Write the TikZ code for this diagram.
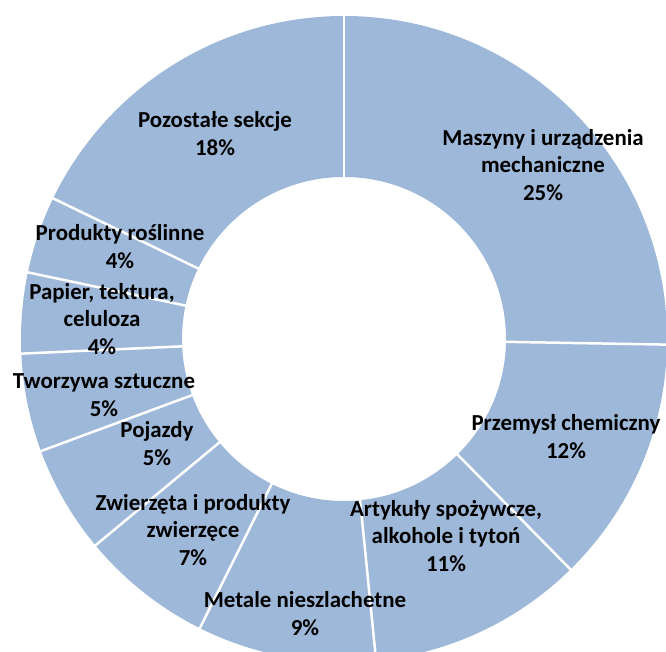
\documentclass[tikz,border=0pt]{standalone}
\usepackage{fontspec}
\setmainfont{Carlito}
\usetikzlibrary{calc}
\definecolor{slicefill}{RGB}{158,184,217}
\tikzset{
	lbl/.style={align=center, font=\fontsize{23}{28}\selectfont\bfseries, text=black, inner sep=0pt},
	sepline/.style={white, line width=2.5bp}
}
\begin{document}
\begin{tikzpicture}[x=1bp,y=1bp]
		\useasboundingbox (0,0) rectangle (666,652);
		\clip (0,0) rectangle (666,652);
		\coordinate (c) at (344,313);
		
		% ring
		\fill[slicefill, even odd rule] (c) circle (323) (c) circle (162);
		
		% slice borders
		\foreach \a in {90,-1,-45.5,-84.3,-116.5,-140.3,-159.7,-177.4,-191.9,-205.8}
			\draw[sepline] ($(c)+(\a:161)$) -- ($(c)+(\a:324)$);
		
		\node[lbl] (pozostale) at (215,518) {Pozostałe sekcje\\18\%};
		\node[lbl] (maszyny) at (543,487) {Maszyny i urządzenia\\mechaniczne\\25\%};
		\node[lbl] (chemia) at (566,215) {Przemysł chemiczny\\12\%};
		\node[lbl] (artykuly) at (446,116) {Artykuły spożywcze,\\alkohole i tytoń\\11\%};
		\node[lbl] (metale) at (305,38) {Metale nieszlachetne\\9\%};
		\node[lbl] (zwierzeta) at (193,122) {Zwierzęta i produkty\\zwierzęce\\7\%};
		\node[lbl] (pojazdy) at (157,208) {Pojazdy\\5\%};
		\node[lbl] (tworzywa) at (104,257) {Tworzywa sztuczne\\5\%};
		\node[lbl] (papier) at (102,333) {Papier, tektura,\\celuloza\\4\%};
		\node[lbl] (rosliny) at (120,405) {Produkty roślinne\\4\%};
\end{tikzpicture}
\end{document}
